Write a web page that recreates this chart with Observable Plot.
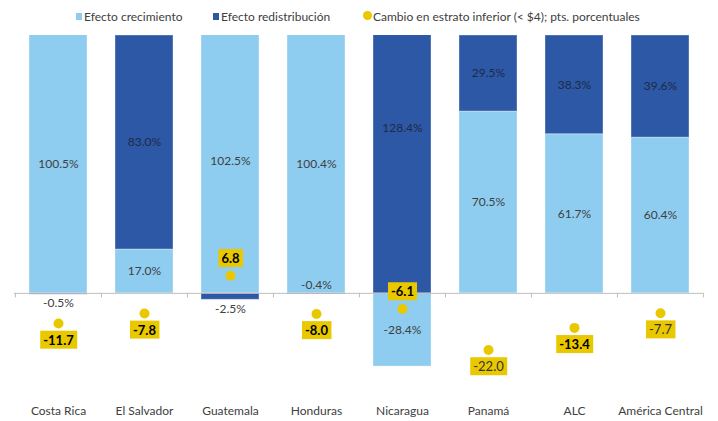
<!DOCTYPE html>
<html><head><meta charset="utf-8">
<script src="https://cdn.jsdelivr.net/npm/d3@7"></script>
<script src="https://cdn.jsdelivr.net/npm/@observablehq/plot@0.6"></script>
<style>
body{margin:0;background:#fff;font-family:Lato,"Liberation Sans",sans-serif;}
#legend{position:relative;height:30px;font-size:12px;color:#404040;}
.li{position:absolute;top:10px;line-height:14px;white-space:nowrap;}
.sw{position:absolute;top:13px;width:6px;height:7px;}
.dt{position:absolute;top:11px;width:9px;height:9px;border-radius:50%;}
</style></head><body>
<div id="legend"></div><div id="chart"></div>
<script>
const paises = ["Costa Rica","El Salvador","Guatemala","Honduras","Nicaragua","Panamá","ALC","América Central"];
const efectoCrecimiento = [100.5, 17.0, 102.5, 100.4, -28.4, 70.5, 61.7, 60.4];
const efectoRedistribucion = [-0.5, 83.0, -2.5, -0.4, 128.4, 29.5, 38.3, 39.6];
const cambioEstratoInferior = [-11.7, -7.8, 6.8, -8.0, -6.1, -22.0, -13.4, -7.7];
const nombresSeries = ["Efecto crecimiento","Efecto redistribución"];
const nombreCambio = "Cambio en estrato inferior (< $4); pts. porcentuales";

const colLight = "#8ECDF0", colDark = "#2C58A6", colYellow = "#E9C800";

// legend
const leg = document.getElementById("legend");
leg.innerHTML =
  `<div class="sw" style="left:76px;background:${colLight}"></div><div class="li" style="left:84px">${nombresSeries[0]}</div>` +
  `<div class="sw" style="left:213px;background:${colDark}"></div><div class="li" style="left:221px">${nombresSeries[1]}</div>` +
  `<div class="dt" style="left:363px;background:${colYellow}"></div><div class="li" style="left:373px">${nombreCambio}</div>`;

// stacked segments (positives and negatives stacked separately, as in the source)
const segs = [];
paises.forEach((p, i) => {
  let pos = 0, neg = 0;
  [[nombresSeries[0], efectoCrecimiento[i]], [nombresSeries[1], efectoRedistribucion[i]]].forEach(([s, v]) => {
    let y1, y2;
    if (v >= 0) { y1 = pos; y2 = pos + v; pos = y2; } else { y1 = neg; y2 = neg + v; neg = y2; }
    segs.push({pais: p, serie: s, v, y1, y2, mid: (y1 + y2) / 2});
  });
});
const puntos = paises.map((p, i) => ({pais: p, v: cambioEstratoInferior[i]}));

// label placement details of the original
const smallAbove = new Set(["Honduras"]);
const dotLabelAbove = new Set(["Guatemala", "Nicaragua"]);
const dotLabelRegular = new Set(["Panamá", "América Central"]);

const W = 718, H = 391, mL = 14, mR = 15;
const step = (W - mL - mR) / paises.length;
const fmt = v => v.toFixed(1) + "%";
const big = segs.filter(d => Math.abs(d.v) >= 5);
const small = segs.filter(d => Math.abs(d.v) < 5);
const ptsBold = puntos.filter(d => !dotLabelRegular.has(d.pais));
const ptsReg = puntos.filter(d => dotLabelRegular.has(d.pais));

const chart = Plot.plot({
  width: W, height: H,
  marginLeft: mL, marginRight: mR, marginTop: 5, marginBottom: 25,
  style: {fontFamily: "Lato, 'Liberation Sans', sans-serif", fontSize: "12px", color: "#404040", background: "#fff"},
  x: {type: "band", domain: paises, paddingInner: 0.33, paddingOuter: 0.165, label: null},
  y: {domain: [-40, 100], axis: null},
  color: {domain: nombresSeries, range: [colLight, colDark]},
  marks: [
    Plot.rectY(segs, {x: "pais", y1: "y1", y2: "y2", fill: "serie", stroke: "white", strokeOpacity: 0.35, strokeWidth: 1, clip: true}),
    Plot.ruleY([0], {stroke: "#BFBFBF", strokeWidth: 1}),
    Plot.ruleX(paises, {x: d => d, y1: 0, y2: -1.8, dx: -step / 2, stroke: "#BFBFBF"}),
    Plot.ruleX(paises.slice(-1), {x: d => d, y1: 0, y2: -1.8, dx: step / 2, stroke: "#BFBFBF"}),
    Plot.axisX({tickSize: 0, tickPadding: 10, label: null, fontSize: 12, fill: "#404040"}),
    Plot.text(big, {x: "pais", y: "mid", text: d => fmt(d.v), fill: d => d.serie === nombresSeries[1] ? "#1F2A44" : "#404040", fontSize: 12}),
    Plot.text(small.filter(d => !smallAbove.has(d.pais)), {x: "pais", y: "y2", text: d => fmt(d.v), fill: "#404040", fontSize: 12, dy: 9}),
    Plot.text(small.filter(d => smallAbove.has(d.pais)), {x: "pais", y: "y1", text: d => fmt(d.v), fill: "#404040", fontSize: 12, dy: -8}),
    Plot.dot(puntos, {x: "pais", y: "v", r: 5, fill: colYellow}),
    Plot.text(ptsBold, {x: "pais", y: "v", text: d => d.v.toFixed(1), fill: "#000", fontSize: 13, fontWeight: "bold", ariaDescription: "etiq-bold"}),
    Plot.text(ptsReg, {x: "pais", y: "v", text: d => d.v.toFixed(1), fill: "#333", fontSize: 13, ariaDescription: "etiq-reg"})
  ]
});
document.getElementById("chart").appendChild(chart);

// shift dot labels above/below and add yellow boxes
[["etiq-bold", ptsBold], ["etiq-reg", ptsReg]].forEach(([lbl, data]) => {
  const g = chart.querySelector(`g[aria-description="${lbl}"]`);
  if (!g) return;
  g.querySelectorAll("text").forEach((t, i) => {
    const d = data[i];
    const off = dotLabelAbove.has(d.pais) ? -17 : 17;
    const tr = t.getAttribute("transform") || "";
    t.setAttribute("transform", tr + ` translate(0,${off})`);
    const bb = t.getBBox();
    const r = document.createElementNS("http://www.w3.org/2000/svg", "rect");
    r.setAttribute("x", bb.x - 3);
    r.setAttribute("y", bb.y - 1);
    r.setAttribute("width", bb.width + 6);
    r.setAttribute("height", bb.height + 2);
    r.setAttribute("fill", colYellow);
    r.setAttribute("transform", t.getAttribute("transform"));
    g.insertBefore(r, t);
  });
});
</script>
</body></html>
